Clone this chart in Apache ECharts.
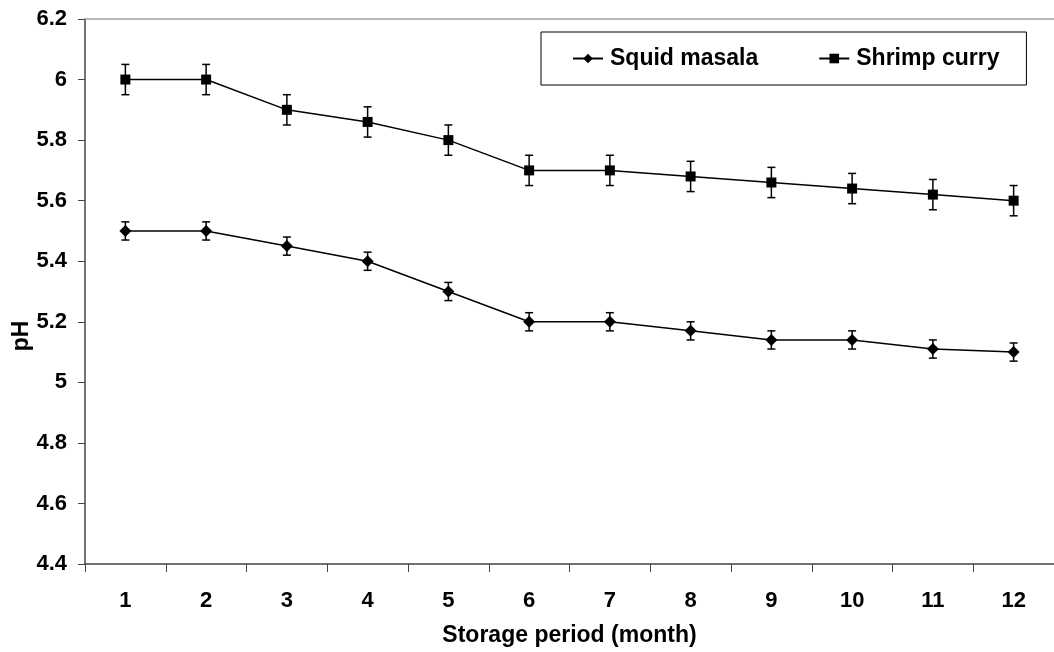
<!DOCTYPE html>
<html>
<head>
<meta charset="utf-8">
<script src="https://cdn.jsdelivr.net/npm/echarts@6/dist/echarts.min.js"></script>
<style>
  html, body { margin: 0; padding: 0; background: #ffffff; }
  #chart { width: 1054px; height: 652px; }
</style>
</head>
<body>
<div id="chart"></div>
<script>
// ---- data ----
const categories = ['1', '2', '3', '4', '5', '6', '7', '8', '9', '10', '11', '12'];
const squidMasala = [5.5, 5.5, 5.45, 5.4, 5.3, 5.2, 5.2, 5.17, 5.14, 5.14, 5.11, 5.1];
const squidErr    = [0.03, 0.03, 0.03, 0.03, 0.03, 0.03, 0.03, 0.03, 0.03, 0.03, 0.03, 0.03];
const shrimpCurry = [6.0, 6.0, 5.9, 5.86, 5.8, 5.7, 5.7, 5.68, 5.66, 5.64, 5.62, 5.6];
const shrimpErr   = [0.05, 0.05, 0.05, 0.05, 0.05, 0.05, 0.05, 0.05, 0.05, 0.05, 0.05, 0.05];
const yMin = 4.4, yMax = 6.2, yStep = 0.2;
const xTitle = 'Storage period (month)';
const yTitle = 'pH';
const seriesNames = ['Squid masala', 'Shrimp curry'];

const FONT = '"Liberation Sans", Arial, sans-serif';

function errData(vals, errs) {
  return vals.map((v, i) => [i, v, errs[i]]);
}
function errRender(params, api) {
  const x = api.value(0), v = api.value(1), e = api.value(2);
  const top = api.coord([x, v + e]);
  const bot = api.coord([x, v - e]);
  const hw = 4;
  const st = { stroke: '#000', lineWidth: 1.5 };
  return {
    type: 'group',
    children: [
      { type: 'line', shape: { x1: top[0], y1: top[1], x2: bot[0], y2: bot[1] }, style: st },
      { type: 'line', shape: { x1: top[0] - hw, y1: top[1], x2: top[0] + hw, y2: top[1] }, style: st },
      { type: 'line', shape: { x1: bot[0] - hw, y1: bot[1], x2: bot[0] + hw, y2: bot[1] }, style: st }
    ]
  };
}

const chart = echarts.init(document.getElementById('chart'), null, { renderer: 'canvas' });
chart.setOption({
  animation: false,
  backgroundColor: '#ffffff',
  textStyle: { fontFamily: FONT },
  grid: { left: 85, right: -6, top: 19, bottom: 87, containLabel: false },
  legend: {
    data: seriesNames,
    left: 541,
    top: 32,
    orient: 'horizontal',
    padding: [15, 27, 15, 31],
    itemGap: 60,
    itemWidth: 30,
    itemHeight: 12,
    borderColor: '#000',
    borderWidth: 1,
    backgroundColor: '#fff',
    borderRadius: 0,
    textStyle: { fontFamily: FONT, fontWeight: 'bold', fontSize: 23, color: '#000', padding: [0, 0, 0, 2] }
  },
  xAxis: [{
    type: 'category',
    data: categories,
    boundaryGap: true,
    name: xTitle,
    nameLocation: 'middle',
    nameGap: 60,
    nameTextStyle: { fontFamily: FONT, fontWeight: 'bold', fontSize: 23, color: '#000' },
    axisLine: { lineStyle: { color: '#444', width: 1.5 } },
    axisTick: { show: true, alignWithLabel: false, length: 8, inside: false, lineStyle: { color: '#444', width: 1 } },
    axisLabel: { fontFamily: FONT, fontWeight: 'bold', fontSize: 22, color: '#000', margin: 26 },
    splitLine: { show: false }
  }, {
    type: 'category',
    data: categories,
    position: 'top',
    axisLine: { show: true, lineStyle: { color: '#a0a0a0', width: 1.5 } },
    axisTick: { show: false },
    axisLabel: { show: false },
    splitLine: { show: false }
  }],
  yAxis: {
    type: 'value',
    min: yMin,
    max: yMax,
    interval: yStep,
    axisLine: { show: true, lineStyle: { color: '#444', width: 1.5 } },
    axisTick: { show: true, length: 7, inside: false, lineStyle: { color: '#444', width: 1 } },
    axisLabel: {
      fontFamily: FONT, fontWeight: 'bold', fontSize: 22, color: '#000', margin: 18,
      formatter: v => String(Math.round(v * 10) / 10)
    },
    splitLine: { show: false }
  },
  graphic: [{
    type: 'text',
    x: 22,
    y: 336,
    rotation: Math.PI / 2,
    style: {
      text: yTitle,
      font: 'bold 23px ' + FONT,
      fill: '#000',
      textAlign: 'center',
      textVerticalAlign: 'middle'
    }
  }],
  series: [
    {
      name: seriesNames[0],
      type: 'line',
      data: squidMasala,
      symbol: 'diamond',
      symbolSize: 12,
      showSymbol: true,
      itemStyle: { color: '#000' },
      lineStyle: { color: '#000', width: 1.5 },
      z: 3
    },
    {
      name: seriesNames[1],
      type: 'line',
      data: shrimpCurry,
      symbol: 'rect',
      symbolSize: 10,
      showSymbol: true,
      itemStyle: { color: '#000' },
      lineStyle: { color: '#000', width: 1.5 },
      z: 3
    },
    {
      name: 'Squid masala error',
      type: 'custom',
      renderItem: errRender,
      data: errData(squidMasala, squidErr),
      encode: { x: 0, y: 1 },
      z: 2,
      silent: true
    },
    {
      name: 'Shrimp curry error',
      type: 'custom',
      renderItem: errRender,
      data: errData(shrimpCurry, shrimpErr),
      encode: { x: 0, y: 1 },
      z: 2,
      silent: true
    }
  ]
});
</script>
</body>
</html>
